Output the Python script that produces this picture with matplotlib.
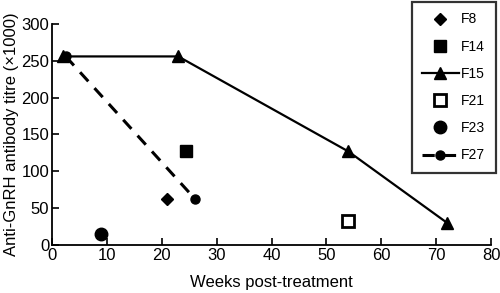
import matplotlib
matplotlib.use("Agg")
import matplotlib.pyplot as plt

plt.rcParams['font.family'] = ['Liberation Sans', 'DejaVu Sans']

f8_x, f8_y = [21], [63]
f14_x, f14_y = [24.5], [127]
f15_x, f15_y = [2, 23, 54, 72], [256, 256, 127, 30]
f21_x, f21_y = [54], [32]
f23_x, f23_y = [9], [15]
f27_x, f27_y = [2.5, 26], [256, 63]

x_ticks = [0, 10, 20, 30, 40, 50, 60, 70, 80]
y_ticks = [0, 50, 100, 150, 200, 250, 300]

fig = plt.figure(figsize=(5.0, 2.93), dpi=100)
ax = fig.add_axes([0.104, 0.164, 0.878, 0.754])

h8, = ax.plot(f8_x, f8_y, linestyle='none', marker='D', color='black', markersize=6, label='F8')
h14, = ax.plot(f14_x, f14_y, linestyle='none', marker='s', color='black', markersize=8.5, label='F14')
h15, = ax.plot(f15_x, f15_y, linestyle='-', marker='^', color='black', markersize=9, linewidth=1.6, label='F15')
h21, = ax.plot(f21_x, f21_y, linestyle='none', marker='s', markerfacecolor='white', markeredgecolor='black', markeredgewidth=2, markersize=8, label='F21')
h23, = ax.plot(f23_x, f23_y, linestyle='none', marker='o', color='black', markersize=9, label='F23')
h27, = ax.plot(f27_x, f27_y, linestyle=(0, (4, 3)), marker='o', color='black', markersize=6.5, linewidth=2.2, label='F27')

ax.set_xlim(0, 80)
ax.set_ylim(0, 300)
ax.set_xticks(x_ticks)
ax.set_yticks(y_ticks)
ax.tick_params(direction='in', length=5, width=1.2, labelsize=12, pad=2)
ax.spines['top'].set_visible(False)
ax.spines['right'].set_visible(False)
ax.spines['left'].set_linewidth(1.3)
ax.spines['bottom'].set_linewidth(1.3)
ax.set_xlabel('Weeks post-treatment', fontsize=12, labelpad=9)
ax.set_ylabel('Anti-GnRH antibody titre (\u00d71000)', fontsize=12, labelpad=2)

leg = fig.legend(handles=[h8, h14, h15, h21, h23, h27],
                 loc='upper left', bbox_to_anchor=(0.824, 0.993), bbox_transform=fig.transFigure,
                 frameon=True, fancybox=False, edgecolor='black', fontsize=10,
                 labelspacing=0.95, handlelength=2.6, borderpad=0.75, handletextpad=0.2,
                 borderaxespad=0)
leg.get_frame().set_linewidth(1.6)

fig.savefig('out.png', dpi=100)
